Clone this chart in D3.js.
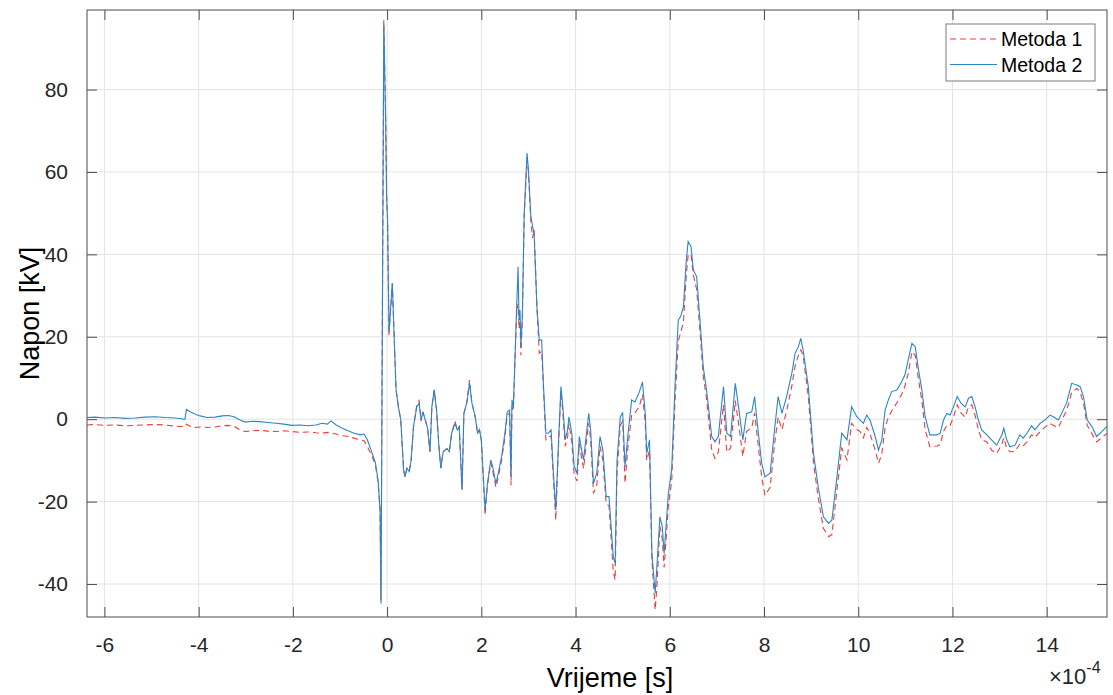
<!DOCTYPE html>
<html>
<head>
<meta charset="utf-8">
<script src="https://cdn.jsdelivr.net/npm/d3@7"></script>
<style>
    body { margin: 0; background: #fff; }
    text { font-family: "Liberation Sans", Arial, sans-serif; }
</style>
</head>
<body>
<svg id="chart" width="1113" height="695"></svg>
<script>
// Vrijeme in units of 1e-4 s (axis shows x10^-4)
const timeE4 = [
    -6.37, -6.20, -5.98, -5.77, -5.56, -5.35, -5.14, -4.92, -4.71, -4.50,
    -4.29, -4.26, -4.18, -4.07, -3.97, -3.82, -3.65, -3.50, -3.37, -3.25,
    -3.12, -3.01, -2.86, -2.70, -2.53, -2.36, -2.19, -2.02, -1.85, -1.68,
    -1.51, -1.38, -1.27, -1.19, -1.08, -0.95, -0.83, -0.70, -0.57, -0.49,
    -0.42, -0.34, -0.25, -0.19, -0.15, -0.13, -0.07, -0.03, -0.01, 0.01,
    0.04, 0.11, 0.15, 0.19, 0.24, 0.29, 0.35, 0.38, 0.42, 0.47,
    0.51, 0.56, 0.63, 0.68, 0.72, 0.76, 0.81, 0.86, 0.91, 0.95,
    1.00, 1.05, 1.10, 1.14, 1.19, 1.27, 1.32, 1.37, 1.44, 1.49,
    1.53, 1.59, 1.63, 1.69, 1.75, 1.80, 1.87, 1.92, 1.96, 2.00,
    2.08, 2.13, 2.20, 2.24, 2.31, 2.36, 2.43, 2.50, 2.55, 2.60,
    2.63, 2.65, 2.68, 2.72, 2.75, 2.78, 2.80, 2.82, 2.84, 2.87,
    2.91, 2.97, 3.00, 3.05, 3.09, 3.12, 3.18, 3.23, 3.28, 3.32,
    3.37, 3.42, 3.48, 3.53, 3.58, 3.64, 3.69, 3.73, 3.78, 3.83,
    3.86, 3.92, 3.97, 4.03, 4.08, 4.13, 4.17, 4.24, 4.28, 4.32,
    4.38, 4.45, 4.52, 4.58, 4.65, 4.71, 4.75, 4.80, 4.84, 4.88,
    4.95, 5.00, 5.05, 5.11, 5.19, 5.26, 5.35, 5.42, 5.48, 5.51,
    5.57, 5.62, 5.69, 5.73, 5.79, 5.84, 5.88, 5.97, 6.04, 6.11,
    6.18, 6.23, 6.29, 6.35, 6.39, 6.45, 6.50, 6.57, 6.64, 6.71,
    6.78, 6.89, 6.96, 7.03, 7.14, 7.21, 7.29, 7.39, 7.46, 7.55,
    7.63, 7.74, 7.80, 7.85, 7.95, 8.02, 8.13, 8.23, 8.30, 8.38,
    8.48, 8.59, 8.66, 8.73, 8.78, 8.83, 8.94, 9.05, 9.15, 9.26,
    9.37, 9.44, 9.54, 9.65, 9.76, 9.86, 9.97, 10.04, 10.11, 10.18,
    10.25, 10.36, 10.43, 10.50, 10.57, 10.64, 10.71, 10.82, 10.92, 10.99,
    11.06, 11.14, 11.21, 11.28, 11.35, 11.42, 11.52, 11.67, 11.74, 11.81,
    11.88, 11.95, 12.02, 12.10, 12.18, 12.27, 12.34, 12.41, 12.48, 12.55,
    12.62, 12.73, 12.83, 12.94, 13.05, 13.09, 13.15, 13.22, 13.33, 13.43,
    13.50, 13.58, 13.68, 13.75, 13.86, 13.96, 14.07, 14.14, 14.25, 14.35,
    14.42, 14.53, 14.64, 14.71, 14.78, 14.86, 14.96, 15.06, 15.17, 15.27
];

// Napon [kV], Metoda 1 (red dashed)
const metoda1 = [
    -1.4, -1.3, -1.5, -1.4, -1.6, -1.5, -1.4, -1.3, -1.4, -1.7,
    -1.8, -1.2, -1.7, -2.0, -1.9, -2.0, -1.9, -1.6, -1.5, -1.7,
    -2.6, -3.0, -2.8, -2.7, -2.9, -3.0, -2.8, -3.0, -3.2, -3.1,
    -3.3, -3.4, -3.2, -3.4, -3.6, -4.0, -4.2, -4.6, -5.0, -5.2,
    -6.6, -8.5, -11.0, -15.5, -22.0, -44.0, 96.8, 72.0, 54.0, 48.0,
    20.4, 33.0, 20.0, 7.1, 3.0, -0.2, -12.3, -14.0, -11.9, -12.7,
    -9.9, -1.8, 3.5, 4.5, -0.5, 1.8, -0.2, -2.2, -7.9, 3.0,
    7.1, 2.2, -6.7, -11.9, -7.9, -7.1, -7.9, -3.4, -0.5, -2.6,
    -1.8, -17.0, 1.4, 3.9, 9.5, 3.9, 0.6, -3.4, -2.6, -5.0,
    -23.3, -16.0, -10.5, -12.5, -16.5, -14.0, -10.0, -4.5, 1.0, 1.5,
    -16.0, 3.0, 2.0, 16.0, 26.0, 28.0, 22.0, 24.0, 15.5, 24.0,
    49.0, 63.5, 60.0, 48.0, 44.0, 46.0, 27.0, 16.0, 16.5, 7.0,
    -5.0, -4.5, -4.0, -14.5, -24.5, -6.0, 7.0, 1.5, -6.5, -4.5,
    -1.0, -5.5, -13.5, -15.0, -6.0, -9.5, -12.0, -4.5, -1.0, -5.0,
    -18.0, -16.0, -6.5, -10.0, -20.5, -21.0, -28.0, -37.0, -39.0, -13.0,
    -1.5, -0.5, -15.5, -7.0, 1.0, 1.5, 3.0, 6.0, -1.0, -10.0,
    -7.5, -34.0, -46.3, -40.0, -26.0, -29.0, -36.0, -21.0, -15.0, 4.0,
    19.0, 21.0, 23.5, 35.0, 39.9, 40.0, 35.0, 31.5, 21.5, 10.5,
    5.0, -7.5, -9.5, -8.0, 3.5, -8.0, -7.0, 4.5, -1.0, -9.0,
    -3.0, -2.0, 1.5, -3.5, -14.0, -18.5, -16.5, -5.5, 0.5, -2.5,
    2.0, 8.0, 13.0, 15.5, 16.8, 15.5, 5.5, -10.5, -19.0, -26.5,
    -28.5, -28.0, -18.0, -7.0, -9.9, -1.0, -2.5, -3.0, -4.5, -2.0,
    -3.5, -7.5, -10.7, -8.5, -2.0, 0.5, 2.0, 4.0, 6.0, 8.0,
    11.0, 16.4, 15.5, 9.5, 4.5, -2.5, -6.7, -6.5, -6.2, -3.0,
    -1.5, -1.5, 0.5, 3.5, 1.5, 0.5, 3.0, 3.5, 1.0, -2.5,
    -5.0, -5.5, -7.5, -8.3, -6.0, -4.5, -7.0, -7.9, -7.8, -6.0,
    -6.5, -5.5, -3.8, -4.5, -3.0, -2.0, -1.0, -1.5, -2.0, 0.5,
    2.0, 6.5, 7.5, 6.5, 4.0, -1.5, -3.5, -5.5, -4.5, -3.5
];

// Napon [kV], Metoda 2 (blue solid)
const metoda2 = [
    0.4, 0.5, 0.3, 0.4, 0.2, 0.3, 0.5, 0.6, 0.4, 0.3,
    0.0, 2.4, 1.8, 1.2, 0.8, 0.4, 0.5, 0.8, 0.9, 0.6,
    -0.2, -0.7, -0.5, -0.6, -0.8, -1.0, -1.2, -1.5, -1.4, -1.6,
    -1.4, -1.0, -1.2, -0.4, -1.4, -2.2, -2.8, -3.4, -3.8, -3.6,
    -5.0, -7.5, -10.5, -15.0, -22.0, -44.7, 95.8, 72.0, 53.7, 48.4,
    21.0, 33.0, 20.0, 7.1, 3.0, -0.2, -12.3, -14.0, -11.9, -12.7,
    -9.9, -1.8, 3.0, 3.9, -0.2, 1.8, -0.2, -2.2, -7.9, 3.0,
    7.1, 2.2, -6.7, -11.9, -7.9, -7.1, -7.9, -3.4, -1.0, -2.6,
    -1.8, -17.2, 1.4, 3.9, 8.7, 3.9, 0.6, -3.4, -2.6, -5.0,
    -22.0, -15.6, -9.9, -11.5, -15.6, -13.1, -9.1, -3.4, 1.8, 2.2,
    -14.0, 4.7, 3.0, 16.8, 27.3, 37.0, 24.1, 26.5, 17.6, 24.9,
    50.0, 64.6, 60.5, 49.2, 46.7, 45.1, 27.3, 19.2, 19.2, 7.9,
    -3.4, -3.4, -2.6, -13.1, -22.0, -5.0, 7.9, 3.0, -5.0, -2.6,
    0.6, -3.4, -11.5, -13.1, -4.2, -7.5, -9.9, -2.6, 1.4, -2.6,
    -15.6, -13.1, -4.2, -7.5, -18.8, -18.8, -25.3, -33.4, -35.0, -10.0,
    0.6, 1.5, -11.5, -4.0, 4.7, 4.2, 6.5, 9.0, 1.4, -8.3,
    -5.0, -32.6, -42.2, -35.0, -23.7, -26.0, -32.6, -18.0, -12.3, 7.9,
    24.1, 24.9, 27.3, 38.6, 43.1, 41.9, 36.2, 34.6, 24.1, 12.7,
    7.1, -4.2, -5.5, -4.2, 7.9, -3.4, -4.2, 8.7, 3.0, -5.0,
    1.4, 1.8, 5.5, -0.2, -10.7, -14.0, -13.1, -1.8, 5.5, 1.4,
    5.5, 11.1, 16.0, 17.6, 19.6, 16.8, 7.9, -8.3, -16.4, -23.7,
    -25.3, -24.5, -14.8, -3.4, -5.0, 3.0, 0.6, -0.2, -1.0, 1.0,
    -0.2, -4.2, -7.5, -5.0, 2.2, 4.7, 6.7, 7.1, 9.1, 10.7,
    14.4, 18.4, 17.6, 11.9, 7.1, 0.6, -3.8, -3.8, -3.4, -0.2,
    1.4, 1.0, 3.0, 5.5, 3.9, 3.0, 5.1, 5.5, 3.0, -0.2,
    -2.6, -3.8, -5.0, -6.3, -3.8, -2.2, -5.0, -6.7, -6.3, -3.8,
    -4.6, -3.4, -1.6, -2.6, -1.0, -0.2, 1.0, 0.6, -0.2, 2.2,
    3.9, 8.7, 8.3, 7.9, 5.5, -0.2, -1.8, -4.2, -3.0, -1.8
];

const xTicks = [-6, -4, -2, 0, 2, 4, 6, 8, 10, 12, 14];
const yTicks = [-40, -20, 0, 20, 40, 60, 80];
const seriesNames = ["Metoda 1", "Metoda 2"];

const margin = { left: 87, top: 10, right: 6, bottom: 78 };
const width = 1113 - margin.left - margin.right;
const height = 695 - margin.top - margin.bottom;
const tickLen = 10;

const redColor = "#ee3b3b";
const blueColor = "#2a86c8";

const svg = d3.select("#chart");
const g = svg.append("g")
    .attr("transform", "translate(" + margin.left + "," + margin.top + ")");

const x = d3.scaleLinear().domain([-6.37, 15.28]).range([0, width]);
const y = d3.scaleLinear().domain([-48.0, 99.3]).range([height, 0]);

// plain hyphen minus like the original
const fmt = d => String(d);

// grid
g.append("g")
    .selectAll("line")
    .data(xTicks)
    .join("line")
    .attr("x1", d => x(d))
    .attr("x2", d => x(d))
    .attr("y1", 0)
    .attr("y2", height)
    .attr("stroke", "#e3e3e3")
    .attr("stroke-width", 1);

g.append("g")
    .selectAll("line")
    .data(yTicks)
    .join("line")
    .attr("x1", 0)
    .attr("x2", width)
    .attr("y1", d => y(d))
    .attr("y2", d => y(d))
    .attr("stroke", "#e3e3e3")
    .attr("stroke-width", 1);

// lines
g.append("clipPath")
    .attr("id", "plot-clip")
    .append("rect")
    .attr("width", width)
    .attr("height", height);

const lineGen = (vals) => d3.line()
    .x((d, i) => x(timeE4[i]))
    .y((d, i) => y(vals[i]))(vals);

g.append("path")
    .attr("d", lineGen(metoda1))
    .attr("clip-path", "url(#plot-clip)")
    .attr("fill", "none")
    .attr("stroke", redColor)
    .attr("stroke-width", 1.1)
    .attr("stroke-dasharray", "6,4");

g.append("path")
    .attr("d", lineGen(metoda2))
    .attr("clip-path", "url(#plot-clip)")
    .attr("fill", "none")
    .attr("stroke", blueColor)
    .attr("stroke-width", 1.1);

// axes (MATLAB style, ticks inside on all sides)
const axisColor = "#4d4d4d";

const xBottom = g.append("g")
    .attr("transform", "translate(0," + height + ")")
    .call(d3.axisBottom(x).tickValues(xTicks).tickSize(-tickLen).tickPadding(20).tickFormat(fmt));
const xTop = g.append("g")
    .call(d3.axisTop(x).tickValues(xTicks).tickSize(-tickLen).tickFormat(""));
const yLeft = g.append("g")
    .call(d3.axisLeft(y).tickValues(yTicks).tickSize(-tickLen).tickPadding(19).tickFormat(fmt));
const yRight = g.append("g")
    .attr("transform", "translate(" + width + ",0)")
    .call(d3.axisRight(y).tickValues(yTicks).tickSize(-tickLen).tickFormat(""));

[xBottom, xTop, yLeft, yRight].forEach(a => {
    a.select(".domain").remove();
    a.selectAll(".tick line").attr("stroke", axisColor);
    a.selectAll(".tick text")
        .attr("fill", "#262626")
        .style("font-size", "21px")
        .style("font-family", "'Liberation Sans', Arial, sans-serif");
});

g.append("rect")
    .attr("width", width)
    .attr("height", height)
    .attr("fill", "none")
    .attr("stroke", axisColor)
    .attr("stroke-width", 1);

// axis labels
svg.append("text")
    .attr("x", 610)
    .attr("y", 687)
    .attr("fill", "#000")
    .style("text-anchor", "middle")
    .style("font-size", "27px")
    .text("Vrijeme [s]");

svg.append("text")
    .attr("transform", "translate(39," + (margin.top + height / 2) + ") rotate(-90)")
    .attr("fill", "#000")
    .style("text-anchor", "middle")
    .style("font-size", "27px")
    .text("Napon [kV]");

const expo = svg.append("text")
    .attr("x", 1049)
    .attr("y", 684)
    .attr("fill", "#262626")
    .style("font-size", "22px");
expo.append("tspan").text("\u00d710");
expo.append("tspan")
    .attr("dy", -11)
    .style("font-size", "16px")
    .text("-4");

// legend
const legend = svg.append("g")
    .attr("transform", "translate(946,24)");

legend.append("rect")
    .attr("width", 149)
    .attr("height", 57)
    .attr("fill", "#fff")
    .attr("stroke", "#7a7a7a")
    .attr("stroke-width", 1);

const legendStyles = [
    { color: redColor, dash: "6,4" },
    { color: blueColor, dash: null }
];

seriesNames.forEach((name, i) => {
    const ly = 15 + i * 25.5;
    legend.append("line")
        .attr("x1", 4)
        .attr("x2", 51)
        .attr("y1", ly)
        .attr("y2", ly)
        .attr("stroke", legendStyles[i].color)
        .attr("stroke-width", 1.2)
        .attr("stroke-dasharray", legendStyles[i].dash);
    legend.append("text")
        .attr("x", 55)
        .attr("y", ly + 7)
        .attr("fill", "#000")
        .style("font-size", "19.5px")
        .text(name);
});
</script>
</body>
</html>
